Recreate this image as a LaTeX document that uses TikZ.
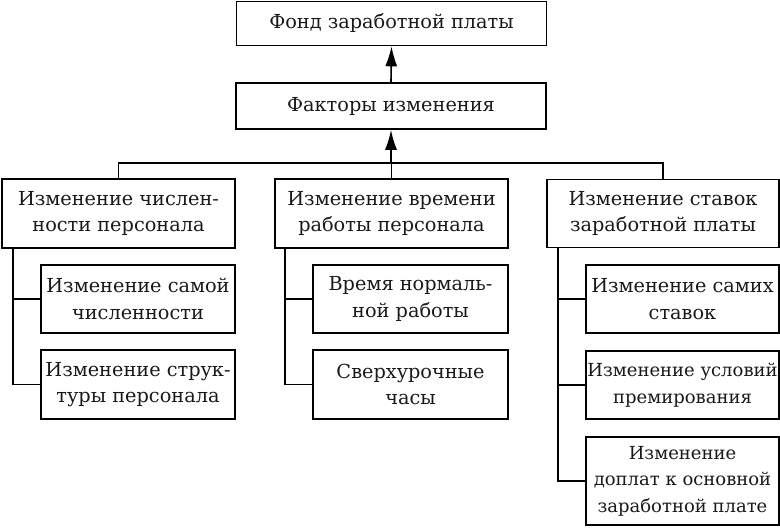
\documentclass[tikz,border=0pt]{standalone}
\usepackage{fontspec}
\setmainfont{DejaVu Serif}
\usetikzlibrary{arrows.meta,calc}
\begin{document}
\begin{tikzpicture}[x=1pt,y=-1pt,
  box/.style={draw=black,line width=1.6pt,rectangle,inner sep=0pt,align=center,
    font=\fontsize{19.3}{26.5}\selectfont,text=black!90},
  tight/.style={font=\fontsize{18}{26.5}\selectfont},
  conn/.style={draw=black,line width=1.6pt},
  arr/.style={conn,-{Latex[length=20pt,width=12pt]}}]
\useasboundingbox (0,0) rectangle (780,530);
\node[box,minimum width=310pt,minimum height=44pt] (top) at (391.5,23.5) {Фонд заработной платы};
\node[box,minimum width=310pt,minimum height=46pt] (fact) at (391,106) {Факторы изменения};
\node[box,minimum width=233pt,minimum height=69pt] (L) at (118.5,213.5) {Изменение числен-\\ности персонала};
\node[box,minimum width=233pt,minimum height=69pt] (M) at (391.5,213.5) {Изменение времени\\работы персонала};
\node[box,minimum width=232pt,minimum height=68pt] (R) at (663,213.5) {Изменение ставок\\заработной платы};
\node[box,minimum width=194pt,minimum height=68pt] (L1) at (138,299) {Изменение самой\\численности};
\node[box,minimum width=194pt,minimum height=69pt] (L2) at (138,384.5) {Изменение струк-\\туры персонала};
\node[box,minimum width=195pt,minimum height=68pt] (M1) at (410.5,299) {Время нормаль-\\ной работы};
\node[box,minimum width=195pt,minimum height=69pt] (M2) at (410.5,384.5) {Сверхурочные\\часы};
\node[box,minimum width=193pt,minimum height=68pt] (R1) at (682.5,299) {Изменение самих\\ставок};
\node[box,tight,minimum width=193pt,minimum height=68pt] (R2) at (682.5,385) {Изменение условий\\премирования};
\node[box,tight,minimum width=193pt,minimum height=88pt] (R3) at (682.5,481) {Изменение\\доплат к основной\\заработной плате};
\coordinate (bus) at (391,163);
\draw[conn] (L.north) |- (bus) -| (R.north);
\draw[conn] (M.north) -- (M.north |- bus);
\draw[arr] (bus) -- (fact.south);
\draw[arr] (fact.north) -- (top.south);
\coordinate (tL) at ($(L.south west)+(12,0)$);
\coordinate (tM) at ($(M.south west)+(11,0)$);
\coordinate (tR) at ($(R.south west)+(12,0)$);
\draw[conn] (tL) |- (L2.west);
\draw[conn] (tL |- L1.west) -- (L1.west);
\draw[conn] (tM) |- (M2.west);
\draw[conn] (tM |- M1.west) -- (M1.west);
\draw[conn] (tR) |- (R3.west);
\draw[conn] (tR |- R1.west) -- (R1.west);
\draw[conn] (tR |- R2.west) -- (R2.west);
\end{tikzpicture}
\end{document}
